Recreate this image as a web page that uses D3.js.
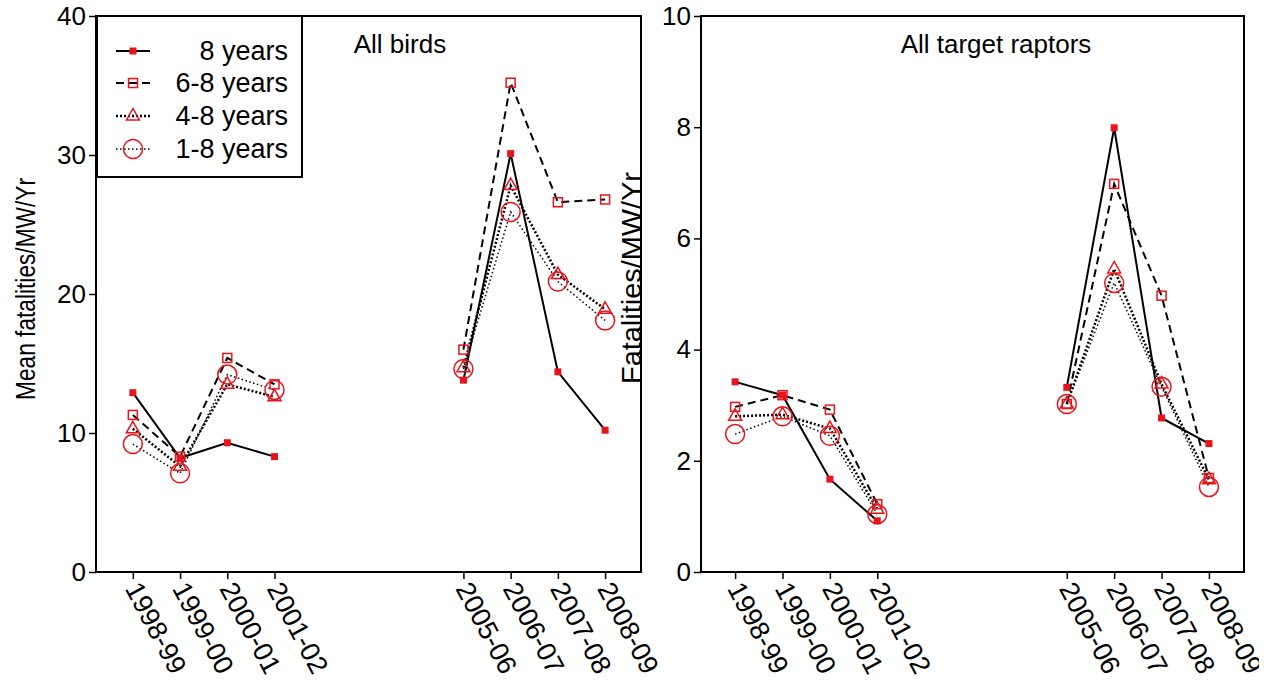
<!DOCTYPE html>
<html>
<head>
<meta charset="utf-8">
<script src="https://cdnjs.cloudflare.com/ajax/libs/d3/7.8.5/d3.min.js"></script>
<style>
  body { margin: 0; background: #fff; }
  text { font-family: "Liberation Sans", Arial, sans-serif; fill: #000; }
</style>
</head>
<body>
<div id="chart"></div>
<script>
// start year of each season, and its label
const years = [1998, 1999, 2000, 2001, 2005, 2006, 2007, 2008];
const yearLabels = ["1998-99", "1999-00", "2000-01", "2001-02", "2005-06", "2006-07", "2007-08", "2008-09"];
const seriesNames = ["8 years", "6-8 years", "4-8 years", "1-8 years"];

// All birds
const birds8  = [12.9, 8.2, 9.3, 8.3, 13.8, 30.1, 14.4, 10.2];
const birds68 = [11.3, 8.3, 15.4, 13.5, 16.0, 35.2, 26.6, 26.8];
const birds48 = [10.3, 7.6, 13.5, 12.6, 14.7, 27.8, 21.4, 18.9];
const birds18 = [9.2, 7.1, 14.2, 13.1, 14.6, 25.9, 20.9, 18.1];

// All target raptors
const raptors8  = [3.42, 3.18, 1.67, 0.92, 3.32, 7.99, 2.77, 2.31];
const raptors68 = [2.97, 3.18, 2.92, 1.22, 3.02, 6.98, 4.97, 1.69];
const raptors48 = [2.80, 2.83, 2.58, 1.13, 3.02, 5.45, 3.38, 1.66];
const raptors18 = [2.48, 2.80, 2.45, 1.04, 3.02, 5.20, 3.33, 1.53];

const birdTicks = [0, 10, 20, 30, 40];
const raptorTicks = [0, 2, 4, 6, 8, 10];

const W = 1277, H = 682;
const svg = d3.select("#chart").append("svg")
  .attr("width", W)
  .attr("height", H);

// the source figure is cropped just right of the last label
svg.append("defs").append("clipPath").attr("id", "crop")
  .append("rect").attr("x", 0).attr("y", 0).attr("width", 1259).attr("height", H);

// line style + marker for each series
const styles = [
  { dash: null, width: 2, marker: "fsquare" },
  { dash: "8,5", width: 2, marker: "osquare" },
  { dash: "2,2", width: 2.5, marker: "triangle" },
  { dash: "1.5,2.5", width: 1.5, marker: "circle" }
];

function drawMarker(g, kind, x, y) {
  if (kind === "fsquare") {
    g.append("rect").attr("x", x - 3.5).attr("y", y - 3.5)
      .attr("width", 7).attr("height", 7).attr("fill", "#e8141c");
  } else if (kind === "osquare") {
    g.append("rect").attr("x", x - 4.5).attr("y", y - 4.5)
      .attr("width", 9).attr("height", 9)
      .attr("fill", "none").attr("stroke", "#e8141c").attr("stroke-width", 1.5);
  } else if (kind === "triangle") {
    g.append("path")
      .attr("d", `M${x},${y - 7.5}L${x + 6.5},${y + 4}L${x - 6.5},${y + 4}Z`)
      .attr("fill", "none").attr("stroke", "#e8141c").attr("stroke-width", 1.5);
  } else {
    g.append("circle").attr("cx", x).attr("cy", y).attr("r", 9.5)
      .attr("fill", "none").attr("stroke", "#e8141c").attr("stroke-width", 1.5);
  }
}

function drawPanel(opt) {
  const x = d3.scaleLinear().domain(opt.xDomain).range([opt.left, opt.right]);
  const y = d3.scaleLinear().domain([0, opt.yMax]).range([572, 16]);
  const g = svg.append("g");

  // box
  g.append("rect")
    .attr("x", opt.left).attr("y", 16)
    .attr("width", opt.right - opt.left).attr("height", 556)
    .attr("fill", "none").attr("stroke", "#000").attr("stroke-width", 2);

  // y axis
  const yAxis = g.append("g")
    .attr("transform", `translate(${opt.left},0)`)
    .call(d3.axisLeft(y).tickValues(opt.yTicks).tickSize(7).tickPadding(3));
  yAxis.select(".domain").remove();
  yAxis.selectAll("line").attr("stroke-width", 1.5);
  yAxis.selectAll("text").style("font-size", "26px").attr("font-family", null);

  // x axis
  const xAxis = g.append("g")
    .attr("transform", "translate(0,572)")
    .attr("clip-path", "url(#crop)")
    .call(d3.axisBottom(x).tickValues(years).tickSize(7).tickFormat((d, i) => yearLabels[i]));
  xAxis.select(".domain").remove();
  xAxis.selectAll("line").attr("stroke-width", 1.5);
  xAxis.selectAll("text")
    .style("font-size", "27px")
    .attr("font-family", null)
    .attr("text-anchor", "start")
    .attr("y", 13)
    .attr("x", -1)
    .attr("dy", "0.35em")
    .attr("transform", "rotate(62,0,13)");

  // title
  g.append("text")
    .attr("x", opt.titleX).attr("y", 53)
    .attr("text-anchor", "middle")
    .style("font-size", "26px")
    .text(opt.title);

  // series, split where seasons are not consecutive
  const line = d3.line()
    .defined(d => d.v != null)
    .x(d => x(d.year))
    .y(d => y(d.v));

  opt.series.forEach((vals, si) => {
    const st = styles[si];
    const pts = [];
    years.forEach((yr, i) => {
      if (i > 0 && yr - years[i - 1] > 1) pts.push({ year: yr, v: null });
      pts.push({ year: yr, v: vals[i] });
    });
    g.append("path")
      .datum(pts)
      .attr("d", line)
      .attr("fill", "none")
      .attr("stroke", "#000")
      .attr("stroke-width", st.width)
      .attr("stroke-dasharray", st.dash);
  });
  opt.series.forEach((vals, si) => {
    vals.forEach((v, i) => drawMarker(g, styles[si].marker, x(years[i]), y(v)));
  });

  // y label (squeezed along its length like the source)
  g.append("text")
    .attr("transform", `translate(${opt.yLabelX},${opt.yLabelY}) rotate(-90)`)
    .attr("text-anchor", "middle")
    .attr("textLength", opt.yLabelLen)
    .attr("lengthAdjust", "spacingAndGlyphs")
    .style("font-size", opt.yLabelSize)
    .text(opt.yLabel);

  return g;
}

drawPanel({
  left: 96, right: 641,
  xDomain: [1998 - 0.78, 2008 + 0.76],
  yMax: 40, yTicks: birdTicks,
  series: [birds8, birds68, birds48, birds18],
  title: "All birds", titleX: 400,
  yLabelX: 35, yLabelY: 289, yLabelSize: "27px", yLabelLen: 222,
  yLabel: "Mean fatalities/MW/Yr"
});

drawPanel({
  left: 701, right: 1244,
  xDomain: [1998 - 0.72, 2008 + 0.74],
  yMax: 10, yTicks: raptorTicks,
  series: [raptors8, raptors68, raptors48, raptors18],
  title: "All target raptors", titleX: 996,
  yLabelX: 641, yLabelY: 278, yLabelSize: "28px", yLabelLen: 212,
  yLabel: "Fatalities/MW/Yr"
});

// legend
const leg = svg.append("g");
leg.append("rect")
  .attr("x", 97).attr("y", 16).attr("width", 205).attr("height", 161)
  .attr("fill", "#fff").attr("stroke", "#000").attr("stroke-width", 2);
const legRows = [51, 83, 116, 149];
seriesNames.forEach((name, i) => {
  const st = styles[i];
  leg.append("line")
    .attr("x1", 116).attr("x2", 150)
    .attr("y1", legRows[i]).attr("y2", legRows[i])
    .attr("stroke", "#000").attr("stroke-width", st.width)
    .attr("stroke-dasharray", st.dash);
  drawMarker(leg, st.marker, 133, legRows[i]);
  leg.append("text")
    .attr("x", 288).attr("y", legRows[i]).attr("dy", "0.35em")
    .attr("text-anchor", "end")
    .style("font-size", "27px")
    .text(name);
});
</script>
</body>
</html>
